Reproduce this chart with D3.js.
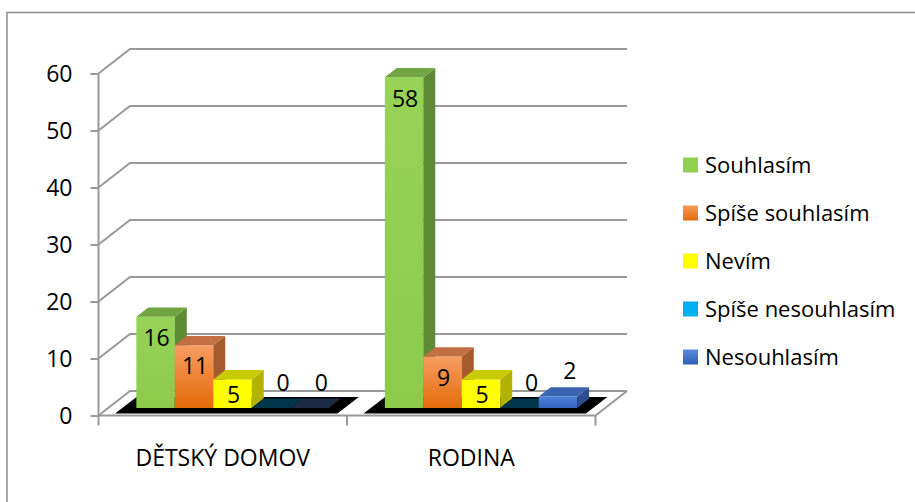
<!DOCTYPE html>
<html>
<head>
<meta charset="utf-8">
<script src="https://cdn.jsdelivr.net/npm/d3@7"></script>
<style>
  html, body { margin: 0; padding: 0; background: #fff; }
  svg { display: block; }
  text { font-family: "Open Sans", "Noto Sans", sans-serif; fill: #000; }
</style>
</head>
<body>
<svg id="chart" width="915" height="502"></svg>
<script>
// ---- data ----
const categories = ["DĚTSKÝ DOMOV", "RODINA"];
const seriesNames = ["Souhlasím", "Spíše souhlasím", "Nevím", "Spíše nesouhlasím", "Nesouhlasím"];
const souhlasim = [16, 58];
const spiseSouhlasim = [11, 9];
const nevim = [5, 5];
const spiseNesouhlasim = [0, 0];
const nesouhlasim = [0, 2];
const yTicks = [0, 10, 20, 30, 40, 50, 60];

const seriesValues = [souhlasim, spiseSouhlasim, nevim, spiseNesouhlasim, nesouhlasim];

// face colours per series: front (top/bottom of gradient), side, top
const faceColors = [
  { front: ["#96D357", "#8CCB4C"], side: "#5F8A35", top: "#71A541", legend: ["#92D050", "#92D050"] },
  { front: ["#F79C62", "#E46C0A"], side: "#A65B2C", top: "#C27043", legend: ["#F79A5C", "#E46C0A"] },
  { front: ["#FFFF00", "#FFFF00"], side: "#B2B200", top: "#CACA00", legend: ["#FFFF00", "#FFFF00"] },
  { front: ["#19BCF5", "#00A6E6"], side: "#0080AE", top: "#0095CC", legend: ["#00B0F0", "#00B0F0"] },
  { front: ["#4F81D9", "#3463C2"], side: "#2D4F8F", top: "#3A64AF", legend: ["#5B8BDC", "#2F5EB8"] }
];

// ---- layout ----
const svg = d3.select("#chart");
const plot = { left: 98.5, right: 595.5, bottom: 415.5, top: 73.5 };
const DX = 31.5, DY = -24.5;        // oblique depth offset of the whole floor
const Z0 = 0.31, Z1 = 0.69;          // depth range occupied by the bars
const gridColor = "#999999";

const x = d3.scaleBand().domain(categories).range([plot.left, plot.right]).padding(0);
const xs = d3.scaleBand().domain(seriesNames).range([0, x.bandwidth()]).paddingInner(0).paddingOuter(0.73);
const y = d3.scaleLinear().domain([0, 60]).range([plot.bottom, plot.top]);

// project a point in the front plane at depth z (0 = front, 1 = back)
const P = (px, py, z) => [px + z * DX, py + z * DY];
const poly = pts => "M" + pts.map(p => p.join(",")).join("L") + "Z";

// outer chart frame (right and bottom edges fall outside the view)
svg.append("path")
  .attr("d", "M7,503V12.5H916")
  .attr("fill", "none").attr("stroke", "#8C8C8C").attr("stroke-width", 1.5);

// ---- gridlines on left and back walls ----
const grid = svg.append("g").attr("fill", "none").attr("stroke", gridColor).attr("stroke-width", 2);
yTicks.forEach(t => {
  const a = [plot.left, y(t)];
  const b = P(plot.left, y(t), 1);
  const c = P(plot.right, y(t), 1);
  grid.append("path").attr("d", `M${a}L${b}L${c}`);
});
// floor front edge and right edge
grid.append("path").attr("d", `M${plot.left},${plot.bottom}L${plot.right},${plot.bottom}L${P(plot.right, plot.bottom, 1)}`);

// value axis
const yAxis = svg.append("g")
  .attr("transform", `translate(${plot.left},0)`)
  .call(d3.axisLeft(y).tickValues(yTicks).tickSize(8).tickPadding(18));
yAxis.select(".domain").attr("stroke", gridColor).attr("stroke-width", 2).attr("d", `M0,${plot.bottom}V${plot.top}`);
yAxis.selectAll(".tick line").attr("stroke", gridColor).attr("stroke-width", 2);
yAxis.selectAll(".tick text")
  .attr("font-size", 23).attr("font-family", "Open Sans, sans-serif").attr("fill", "#000")
  .attr("dy", "0.36em");

// category axis: boundary ticks + centred labels
const catBounds = categories.map(c => x(c)).concat([plot.right]);
svg.append("g").selectAll("line").data(catBounds).join("line")
  .attr("x1", d => d).attr("x2", d => d)
  .attr("y1", plot.bottom).attr("y2", plot.bottom + 10)
  .attr("stroke", gridColor).attr("stroke-width", 2);
const xAxis = svg.append("g")
  .attr("transform", `translate(0,${plot.bottom})`)
  .call(d3.axisBottom(x).tickSize(0).tickPadding(34));
xAxis.select(".domain").remove();
xAxis.selectAll(".tick text")
  .attr("font-size", 23).attr("font-family", "Open Sans, sans-serif").attr("fill", "#000");

// ---- gradients ----
const defs = svg.append("defs");
faceColors.forEach((fc, i) => {
  [["front", fc.front], ["legend", fc.legend]].forEach(([kind, stops]) => {
    const g = defs.append("linearGradient").attr("id", `g-${kind}-${i}`)
      .attr("x1", 0).attr("y1", 0).attr("x2", 0).attr("y2", 1);
    g.append("stop").attr("offset", "0%").attr("stop-color", stops[0]);
    g.append("stop").attr("offset", "100%").attr("stop-color", stops[1]);
  });
});

// ---- bars ----
const barsLayer = svg.append("g");
const labelLayer = svg.append("g").attr("font-size", 23).attr("text-anchor", "middle");

categories.forEach((cat, ci) => {
  const g = barsLayer.append("g");
  // dark shadow on the floor under each cluster
  const sx0 = x(cat) + xs(seriesNames[0]) - 14;
  const sx1 = x(cat) + xs(seriesNames[seriesNames.length - 1]) + xs.bandwidth() + 16;
  g.append("path").attr("fill", "#000")
    .attr("d", poly([P(sx0, plot.bottom, 0.08), P(sx1, plot.bottom, 0.08), P(sx1, plot.bottom, 0.76), P(sx0, plot.bottom, 0.76)]));

  seriesNames.forEach((s, si) => {
    const v = seriesValues[si][ci];
    const fc = faceColors[si];
    const x0 = x(cat) + xs(s), x1 = x0 + xs.bandwidth();
    const yb = y(0), yt = y(v);
    const bar = g.append("g");
    if (v > 0) {
      bar.append("path").attr("fill", `url(#g-front-${si})`)
        .attr("d", poly([P(x0, yt, Z0), P(x1, yt, Z0), P(x1, yb, Z0), P(x0, yb, Z0)]));
      bar.append("path").attr("fill", fc.side)
        .attr("d", poly([P(x1, yt, Z0), P(x1, yt, Z1), P(x1, yb, Z1), P(x1, yb, Z0)]));
    }
    const topFill = v > 0 ? fc.top : d3.color(fc.legend[0]).darker(3.3).formatHex();
    bar.append("path").attr("fill", topFill)
      .attr("d", poly([P(x0, yt, Z0), P(x1, yt, Z0), P(x1, yt, Z1), P(x0, yt, Z1)]));

    // value label
    const [fx, fy] = P((x0 + x1) / 2, yt, Z0);
    const h = yb - yt;
    let lx, ly;
    if (v >= 5) { lx = fx + 1; ly = fy + Math.min(21, h / 2 + 1); }
    else { lx = fx + 12; ly = fy - 25.5; }
    labelLayer.append("text").attr("x", lx).attr("y", ly).attr("dy", "0.36em").text(v);
  });
});

// ---- legend ----
const legend = svg.append("g").attr("transform", "translate(683,165)");
seriesNames.forEach((s, i) => {
  const row = legend.append("g").attr("transform", `translate(0,${i * 48})`);
  row.append("rect").attr("x", 0).attr("y", -7.5).attr("width", 15).attr("height", 15)
    .attr("fill", `url(#g-legend-${i})`);
  row.append("text").attr("x", 22).attr("y", 0).attr("dy", "0.36em")
    .attr("font-size", 22).text(s);
});
</script>
</body>
</html>
